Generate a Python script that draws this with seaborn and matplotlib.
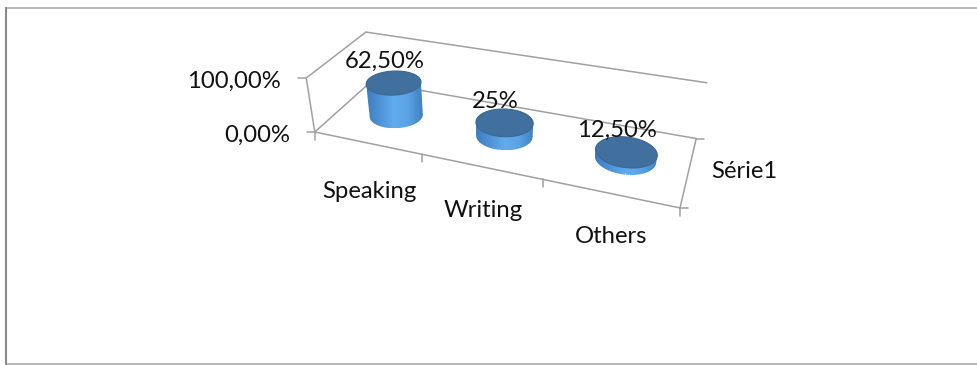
import numpy as np
import pandas as pd
import matplotlib
matplotlib.use("Agg")
import matplotlib.pyplot as plt
from matplotlib.colors import LinearSegmentedColormap
from matplotlib.patches import Polygon
import seaborn as sns

categories = ["Speaking", "Writing", "Others"]
values = [62.5, 25.0, 12.5]
value_labels = ["62,50%", "25%", "12,50%"]
value_ticks = [0.0, 100.0]
value_tick_labels = ["0,00%", "100,00%"]
series_name = "Série1"

W, H = 977, 365
FS = 17.2
sns.set_theme(style="white")
plt.rcParams["font.family"] = ["Lato", "DejaVu Sans"]

fig = plt.figure(figsize=(W / 100, H / 100), dpi=100)
ax = fig.add_axes([0, 0, 1, 1])
ax.set_xlim(0, W)
ax.set_ylim(H, 0)
ax.axis("off")

# Camera for the 3D box: (category position, depth, value fraction) -> pixels
# The last number weights each anchor in the fit
anchors = [((0, 0, 0), (315, 132), 4), ((3, 0, 0), (680, 208), 2), ((3, 1, 0), (697, 138), 1),
           ((0, 1, 0), (367, 82), 1), ((0, 0, 1), (306, 78), 4), ((0, 1, 1), (370, 32), 1),
           ((3, 1, 1), (706, 83), 1)]
A, b = [], []
for (u, v, h), (x, y), w in anchors:
    A.append(np.array([u, v, h, 1, 0, 0, 0, 0, -x * u, -x * v, -x * h], float) * w)
    A.append(np.array([0, 0, 0, 0, u, v, h, 1, -y * u, -y * v, -y * h], float) * w)
    b += [x * w, y * w]
m = np.linalg.lstsq(np.array(A, float), np.array(b, float), rcond=None)[0]
P = np.append(m, 1).reshape(3, 4)


def project(u, v, h):
    u, v, h = np.broadcast_arrays(u, v, h)
    q = P @ np.vstack([u.ravel(), v.ravel(), h.ravel(), np.ones(u.size)])
    return q[0] / q[2], q[1] / q[2]


# Box edges and tick marks
edges = [((0, 0, 0), (3, 0, 0)), ((3, 0, 0), (3, 1, 0)), ((3, 1, 0), (0, 1, 0)),
         ((0, 1, 0), (0, 0, 0)), ((0, 0, 0), (0, 0, 1)), ((0, 0, 1), (0, 1, 1)),
         ((0, 1, 1), (3, 1, 1))]
rows = []
for k, (p0, p1) in enumerate(edges):
    for p in (p0, p1):
        x, y = project(*p)
        rows.append((k, x[0], y[0]))
n = len(edges)
for i in range(len(categories) + 1):
    x, y = project(i, 0, 0)
    rows += [(n, x[0], y[0]), (n, x[0], y[0] + 8)]
    n += 1
for t in value_ticks:
    x, y = project(0, 0, t / 100)
    rows += [(n, x[0], y[0]), (n, x[0] - 8, y[0])]
    n += 1
for d in (0, 1):
    x, y = project(3, d, 0)
    rows += [(n, x[0], y[0]), (n, x[0] + 8, y[0])]
    n += 1
frame = pd.DataFrame(rows, columns=["seg", "x", "y"])
sns.lineplot(data=frame, x="x", y="y", units="seg", estimator=None, sort=False,
             color="#a0a0a0", linewidth=1.1, ax=ax, legend=False, zorder=1)
ax.set_xlim(0, W)
ax.set_ylim(H, 0)

# Outer frame, open on the right where it runs off the canvas
ax.plot([W, 6, 6, W], [7.5, 7.5, 364, 364], color="#a2a2a2", lw=1.1, zorder=0,
        solid_joinstyle="miter")
ax.plot([6, 6], [7.5, 364], color="#8a8a8a", lw=1.5, zorder=0)

# Cylinders, one per category, height taken from the value
body_cmap = LinearSegmentedColormap.from_list(
    "body", ["#3f7cbc", "#4f94d8", "#62aced", "#5aa2e4", "#3f7fc2"])
t = np.linspace(0, 2 * np.pi, 240)
RU, RV = 0.235, 0.225
for i, val in enumerate(values):
    cu, cv = i + 0.52, 0.5
    bx, by = project(cu + RU * np.cos(t), cv + RV * np.sin(t), 0)
    tx, ty = project(cu + RU * np.cos(t), cv + RV * np.sin(t), val / 100)
    # Silhouette of the body: sweep the ring between base and top
    pts = []
    for s in np.linspace(0, 1, 12):
        pts.append(np.column_stack([bx + (tx - bx) * s, by + (ty - by) * s]))
    pts = np.vstack(pts)
    centre = pts.mean(axis=0)
    ang = np.arctan2(pts[:, 1] - centre[1], pts[:, 0] - centre[0])
    bins = np.linspace(-np.pi, np.pi, 181)
    hull = []
    for a0, a1 in zip(bins[:-1], bins[1:]):
        sel = pts[(ang >= a0) & (ang < a1)]
        if len(sel):
            hull.append(sel[np.argmax(np.hypot(*(sel - centre).T))])
    hull = Polygon(np.array(hull), closed=True, fc="none", ec="none",
                   transform=ax.transData)
    ax.add_patch(hull)
    x0, x1 = min(bx.min(), tx.min()), max(bx.max(), tx.max())
    y0, y1 = min(by.min(), ty.min()), max(by.max(), ty.max())
    im = ax.imshow(np.linspace(0, 1, 128)[None, :], cmap=body_cmap, aspect="auto",
                   extent=(x0, x1, y1, y0), zorder=2, interpolation="bilinear")
    im.set_clip_path(hull)
    ax.add_patch(Polygon(np.column_stack([tx, ty]), closed=True, fc="#41709f",
                         ec="#3a6896", lw=0.8, zorder=3))
    cx, cy = project(cu, cv, val / 100)
    ax.text(cx[0] - 9, cy[0] - 21, value_labels[i], ha="center", va="center",
            fontsize=FS, color="#111111", zorder=4)

ax.set_xlim(0, W)
ax.set_ylim(H, 0)

# Axis text
for tick, lab in zip(value_ticks, value_tick_labels):
    x, y = project(0, 0, tick / 100)
    ax.text(x[0] - 25, y[0] + 3, lab, ha="right", va="center", fontsize=FS, color="#111111")
for i, (lab, dy) in enumerate(zip(categories, (49, 44, 43))):
    x, y = project(i + 0.5, 0, 0)
    ax.text(x[0] + 2, y[0] + dy, lab, ha="center", va="center", fontsize=FS, color="#111111")
ax.text(744, 172, series_name, ha="center", va="center", fontsize=FS, color="#111111")

fig.savefig("out.png", dpi=100)
